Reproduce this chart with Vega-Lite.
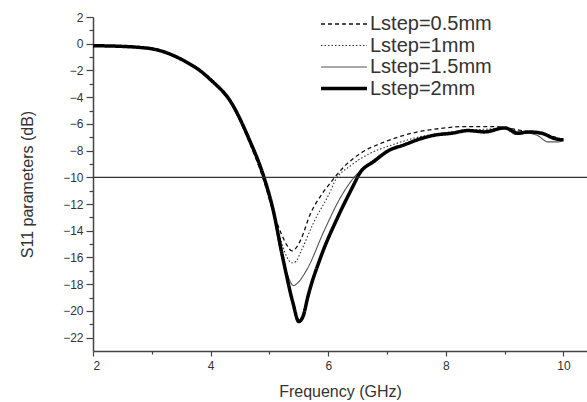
{
  "$schema": "https://vega.github.io/schema/vega-lite/v6.json",
  "width": 494,
  "height": 334,
  "autosize": {"type": "none"},
  "padding": {"left": 93, "top": 17, "right": 0, "bottom": 51},
  "background": "white",
  "config": {
    "view": {"stroke": null},
    "font": "Liberation Sans",
    "axis": {
      "grid": false,
      "domainColor": "#444",
      "domainWidth": 1.5,
      "tickColor": "#444",
      "tickWidth": 1.2,
      "labelColor": "#333",
      "titleColor": "#333",
      "labelFont": "Liberation Sans",
      "titleFont": "Liberation Sans",
      "titleFontWeight": "normal",
      "labelFontSize": 12,
      "labelOverlap": false
    }
  },
  "resolve": {"axis": {"x": "independent", "y": "independent"}},
  "datasets": {
    "curves": [
      {"f": 2.0, "s11": -0.15, "series": "Lstep=0.5mm"},
      {"f": 2.5, "s11": -0.2, "series": "Lstep=0.5mm"},
      {"f": 2.8, "s11": -0.28, "series": "Lstep=0.5mm"},
      {"f": 3.0, "s11": -0.38, "series": "Lstep=0.5mm"},
      {"f": 3.2, "s11": -0.6, "series": "Lstep=0.5mm"},
      {"f": 3.4, "s11": -0.95, "series": "Lstep=0.5mm"},
      {"f": 3.6, "s11": -1.4, "series": "Lstep=0.5mm"},
      {"f": 3.8, "s11": -1.95, "series": "Lstep=0.5mm"},
      {"f": 4.0, "s11": -2.6, "series": "Lstep=0.5mm"},
      {"f": 4.35, "s11": -4.5, "series": "Lstep=0.5mm"},
      {"f": 4.65, "s11": -7.3, "series": "Lstep=0.5mm"},
      {"f": 4.9, "s11": -10.2, "series": "Lstep=0.5mm"},
      {"f": 5.05, "s11": -12.4, "series": "Lstep=0.5mm"},
      {"f": 5.2, "s11": -14.2, "series": "Lstep=0.5mm"},
      {"f": 5.3, "s11": -15.1, "series": "Lstep=0.5mm"},
      {"f": 5.38, "s11": -15.5, "series": "Lstep=0.5mm"},
      {"f": 5.45, "s11": -15.3, "series": "Lstep=0.5mm"},
      {"f": 5.53, "s11": -14.7, "series": "Lstep=0.5mm"},
      {"f": 5.7, "s11": -12.7, "series": "Lstep=0.5mm"},
      {"f": 5.87, "s11": -11.4, "series": "Lstep=0.5mm"},
      {"f": 6.04, "s11": -10.4, "series": "Lstep=0.5mm"},
      {"f": 6.27, "s11": -9.2, "series": "Lstep=0.5mm"},
      {"f": 6.55, "s11": -8.2, "series": "Lstep=0.5mm"},
      {"f": 6.9, "s11": -7.45, "series": "Lstep=0.5mm"},
      {"f": 7.18, "s11": -7.0, "series": "Lstep=0.5mm"},
      {"f": 7.52, "s11": -6.6, "series": "Lstep=0.5mm"},
      {"f": 7.9, "s11": -6.35, "series": "Lstep=0.5mm"},
      {"f": 8.3, "s11": -6.2, "series": "Lstep=0.5mm"},
      {"f": 8.8, "s11": -6.2, "series": "Lstep=0.5mm"},
      {"f": 9.1, "s11": -6.35, "series": "Lstep=0.5mm"},
      {"f": 9.4, "s11": -6.6, "series": "Lstep=0.5mm"},
      {"f": 9.7, "s11": -6.8, "series": "Lstep=0.5mm"},
      {"f": 10.0, "s11": -7.2, "series": "Lstep=0.5mm"},

      {"f": 2.0, "s11": -0.15, "series": "Lstep=1mm"},
      {"f": 2.5, "s11": -0.2, "series": "Lstep=1mm"},
      {"f": 2.8, "s11": -0.28, "series": "Lstep=1mm"},
      {"f": 3.0, "s11": -0.38, "series": "Lstep=1mm"},
      {"f": 3.2, "s11": -0.6, "series": "Lstep=1mm"},
      {"f": 3.4, "s11": -0.95, "series": "Lstep=1mm"},
      {"f": 3.6, "s11": -1.4, "series": "Lstep=1mm"},
      {"f": 3.8, "s11": -1.95, "series": "Lstep=1mm"},
      {"f": 4.0, "s11": -2.65, "series": "Lstep=1mm"},
      {"f": 4.35, "s11": -4.45, "series": "Lstep=1mm"},
      {"f": 4.65, "s11": -7.2, "series": "Lstep=1mm"},
      {"f": 4.9, "s11": -10.1, "series": "Lstep=1mm"},
      {"f": 5.05, "s11": -12.4, "series": "Lstep=1mm"},
      {"f": 5.2, "s11": -14.8, "series": "Lstep=1mm"},
      {"f": 5.3, "s11": -16.0, "series": "Lstep=1mm"},
      {"f": 5.38, "s11": -16.4, "series": "Lstep=1mm"},
      {"f": 5.45, "s11": -16.3, "series": "Lstep=1mm"},
      {"f": 5.53, "s11": -15.6, "series": "Lstep=1mm"},
      {"f": 5.75, "s11": -13.4, "series": "Lstep=1mm"},
      {"f": 6.04, "s11": -11.0, "series": "Lstep=1mm"},
      {"f": 6.1, "s11": -10.4, "series": "Lstep=1mm"},
      {"f": 6.39, "s11": -9.1, "series": "Lstep=1mm"},
      {"f": 6.67, "s11": -8.3, "series": "Lstep=1mm"},
      {"f": 7.07, "s11": -7.6, "series": "Lstep=1mm"},
      {"f": 7.52, "s11": -7.0, "series": "Lstep=1mm"},
      {"f": 8.0, "s11": -6.65, "series": "Lstep=1mm"},
      {"f": 8.5, "s11": -6.45, "series": "Lstep=1mm"},
      {"f": 9.0, "s11": -6.35, "series": "Lstep=1mm"},
      {"f": 9.3, "s11": -6.6, "series": "Lstep=1mm"},
      {"f": 9.6, "s11": -6.7, "series": "Lstep=1mm"},
      {"f": 9.85, "s11": -7.1, "series": "Lstep=1mm"},
      {"f": 10.0, "s11": -7.2, "series": "Lstep=1mm"},

      {"f": 2.0, "s11": -0.15, "series": "Lstep=1.5mm"},
      {"f": 2.5, "s11": -0.2, "series": "Lstep=1.5mm"},
      {"f": 2.8, "s11": -0.28, "series": "Lstep=1.5mm"},
      {"f": 3.0, "s11": -0.38, "series": "Lstep=1.5mm"},
      {"f": 3.2, "s11": -0.6, "series": "Lstep=1.5mm"},
      {"f": 3.4, "s11": -0.95, "series": "Lstep=1.5mm"},
      {"f": 3.6, "s11": -1.4, "series": "Lstep=1.5mm"},
      {"f": 3.8, "s11": -1.95, "series": "Lstep=1.5mm"},
      {"f": 4.0, "s11": -2.7, "series": "Lstep=1.5mm"},
      {"f": 4.35, "s11": -4.4, "series": "Lstep=1.5mm"},
      {"f": 4.65, "s11": -7.1, "series": "Lstep=1.5mm"},
      {"f": 4.9, "s11": -9.9, "series": "Lstep=1.5mm"},
      {"f": 5.05, "s11": -12.3, "series": "Lstep=1.5mm"},
      {"f": 5.2, "s11": -15.8, "series": "Lstep=1.5mm"},
      {"f": 5.3, "s11": -17.2, "series": "Lstep=1.5mm"},
      {"f": 5.41, "s11": -18.1, "series": "Lstep=1.5mm"},
      {"f": 5.48, "s11": -17.9, "series": "Lstep=1.5mm"},
      {"f": 5.65, "s11": -16.8, "series": "Lstep=1.5mm"},
      {"f": 5.93, "s11": -14.0, "series": "Lstep=1.5mm"},
      {"f": 6.21, "s11": -11.5, "series": "Lstep=1.5mm"},
      {"f": 6.44, "s11": -10.0, "series": "Lstep=1.5mm"},
      {"f": 6.6, "s11": -9.3, "series": "Lstep=1.5mm"},
      {"f": 6.8, "s11": -8.6, "series": "Lstep=1.5mm"},
      {"f": 7.07, "s11": -7.85, "series": "Lstep=1.5mm"},
      {"f": 7.3, "s11": -7.5, "series": "Lstep=1.5mm"},
      {"f": 7.6, "s11": -7.1, "series": "Lstep=1.5mm"},
      {"f": 7.8, "s11": -6.9, "series": "Lstep=1.5mm"},
      {"f": 8.1, "s11": -6.7, "series": "Lstep=1.5mm"},
      {"f": 8.4, "s11": -6.55, "series": "Lstep=1.5mm"},
      {"f": 8.7, "s11": -6.6, "series": "Lstep=1.5mm"},
      {"f": 9.0, "s11": -6.35, "series": "Lstep=1.5mm"},
      {"f": 9.2, "s11": -6.8, "series": "Lstep=1.5mm"},
      {"f": 9.4, "s11": -6.7, "series": "Lstep=1.5mm"},
      {"f": 9.55, "s11": -6.85, "series": "Lstep=1.5mm"},
      {"f": 9.74, "s11": -7.35, "series": "Lstep=1.5mm"},
      {"f": 9.91, "s11": -7.35, "series": "Lstep=1.5mm"},
      {"f": 10.0, "s11": -7.2, "series": "Lstep=1.5mm"},

      {"f": 2.0, "s11": -0.15, "series": "Lstep=2mm"},
      {"f": 2.5, "s11": -0.2, "series": "Lstep=2mm"},
      {"f": 2.8, "s11": -0.28, "series": "Lstep=2mm"},
      {"f": 3.0, "s11": -0.38, "series": "Lstep=2mm"},
      {"f": 3.2, "s11": -0.6, "series": "Lstep=2mm"},
      {"f": 3.4, "s11": -0.95, "series": "Lstep=2mm"},
      {"f": 3.6, "s11": -1.4, "series": "Lstep=2mm"},
      {"f": 3.8, "s11": -1.95, "series": "Lstep=2mm"},
      {"f": 4.0, "s11": -2.7, "series": "Lstep=2mm"},
      {"f": 4.35, "s11": -4.4, "series": "Lstep=2mm"},
      {"f": 4.65, "s11": -7.1, "series": "Lstep=2mm"},
      {"f": 4.9, "s11": -9.9, "series": "Lstep=2mm"},
      {"f": 5.05, "s11": -12.2, "series": "Lstep=2mm"},
      {"f": 5.24, "s11": -16.3, "series": "Lstep=2mm"},
      {"f": 5.4, "s11": -19.4, "series": "Lstep=2mm"},
      {"f": 5.5, "s11": -20.8, "series": "Lstep=2mm"},
      {"f": 5.58, "s11": -20.3, "series": "Lstep=2mm"},
      {"f": 5.65, "s11": -19.0, "series": "Lstep=2mm"},
      {"f": 5.87, "s11": -16.0, "series": "Lstep=2mm"},
      {"f": 6.16, "s11": -13.0, "series": "Lstep=2mm"},
      {"f": 6.44, "s11": -10.5, "series": "Lstep=2mm"},
      {"f": 6.52, "s11": -9.8, "series": "Lstep=2mm"},
      {"f": 6.78, "s11": -8.8, "series": "Lstep=2mm"},
      {"f": 7.07, "s11": -7.9, "series": "Lstep=2mm"},
      {"f": 7.24, "s11": -7.65, "series": "Lstep=2mm"},
      {"f": 7.58, "s11": -7.1, "series": "Lstep=2mm"},
      {"f": 7.8, "s11": -6.85, "series": "Lstep=2mm"},
      {"f": 8.1, "s11": -6.7, "series": "Lstep=2mm"},
      {"f": 8.38, "s11": -6.5, "series": "Lstep=2mm"},
      {"f": 8.66, "s11": -6.6, "series": "Lstep=2mm"},
      {"f": 9.0, "s11": -6.3, "series": "Lstep=2mm"},
      {"f": 9.23, "s11": -6.7, "series": "Lstep=2mm"},
      {"f": 9.4, "s11": -6.6, "series": "Lstep=2mm"},
      {"f": 9.63, "s11": -6.7, "series": "Lstep=2mm"},
      {"f": 9.85, "s11": -7.1, "series": "Lstep=2mm"},
      {"f": 10.0, "s11": -7.2, "series": "Lstep=2mm"}
    ],
    "ref": [{"level": -10}]
  },
  "layer": [
    {
      "data": {"name": "curves"},
      "mark": {"type": "line", "interpolate": "monotone"},
      "encoding": {
        "x": {
          "field": "f", "type": "quantitative",
          "scale": {"domain": [2, 10.4], "nice": false, "zero": false},
          "axis": {
            "title": "Frequency (GHz)",
            "titleFontSize": 16,
            "titlePadding": 12,
            "values": [2, 4, 6, 8, 10],
            "labelOverlap": false,
            "labelPadding": 4,
            "tickSize": 5
          }
        },
        "y": {
          "field": "s11", "type": "quantitative",
          "scale": {"domain": [-23, 2], "nice": false, "zero": false},
          "axis": {
            "title": "S11 parameters (dB)",
            "titleFontSize": 16,
            "titlePadding": 27,
            "values": [2, 0, -2, -4, -6, -8, -10, -12, -14, -16, -18, -20, -22],
            "labelOverlap": false,
            "labelPadding": 3,
            "tickSize": 7
          }
        },
        "detail": {"field": "series"},
        "color": {
          "field": "series", "type": "nominal",
          "scale": {"domain": ["Lstep=0.5mm", "Lstep=1mm", "Lstep=1.5mm", "Lstep=2mm"], "range": ["#111", "#333", "#555", "#000"]},
          "legend": {
            "title": null,
            "orient": "none",
            "legendX": 241,
            "legendY": -3,
            "symbolType": "M-4.6,0H4.6",
            "symbolSize": 100,
            "rowPadding": 1.5,
            "labelFontSize": 20,
            "labelColor": "#333",
            "labelOffset": 16,
            "labelFont": "Liberation Sans"
          }
        },
        "strokeDash": {
          "field": "series", "type": "nominal",
          "scale": {"domain": ["Lstep=0.5mm", "Lstep=1mm", "Lstep=1.5mm", "Lstep=2mm"], "range": [[4, 3], [1.5, 2], [1, 0], [1, 0]]}
        },
        "strokeWidth": {
          "field": "series", "type": "ordinal",
          "scale": {"type": "ordinal", "domain": ["Lstep=0.5mm", "Lstep=1mm", "Lstep=1.5mm", "Lstep=2mm"], "range": [1.3, 1.1, 1.1, 3.5]}
        }
      }
    },
    {
      "data": {"name": "curves"},
      "mark": {"type": "point", "opacity": 0},
      "encoding": {
        "x": {
          "field": "f", "type": "quantitative",
          "axis": {"orient": "bottom", "title": null, "labels": false, "domain": false, "values": [3, 5, 7, 9], "tickSize": 3}
        },
        "y": {
          "field": "s11", "type": "quantitative",
          "axis": {"orient": "left", "title": null, "labels": false, "domain": false, "values": [1, -1, -3, -5, -7, -9, -11, -13, -15, -17, -19, -21], "tickSize": 4}
        }
      }
    },
    {
      "data": {"name": "ref"},
      "mark": {"type": "rule", "color": "#333", "strokeWidth": 1.2},
      "encoding": {
        "y": {"field": "level", "type": "quantitative", "axis": null}
      }
    }
  ]
}
